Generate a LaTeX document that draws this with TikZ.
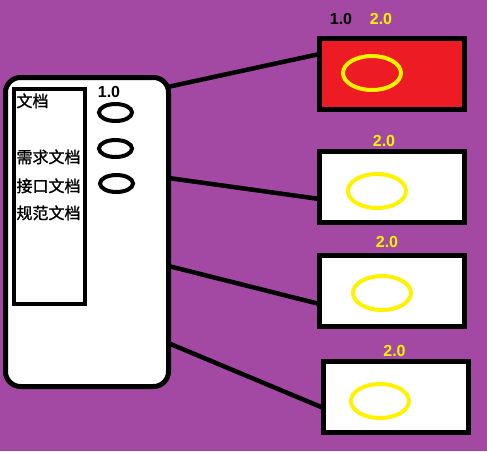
\documentclass[tikz,border=0pt]{standalone}
\usepackage{fontspec}
\setmainfont{Liberation Sans}
\newfontfamily\cjk[FakeBold=1.2]{Noto Sans CJK SC}
\usetikzlibrary{shapes.geometric,calc}
\definecolor{bgpurple}{RGB}{163,73,164}
\definecolor{paintred}{RGB}{237,28,36}
\definecolor{paintyellow}{RGB}{255,242,0}
\tikzset{
  every node/.style={inner sep=0pt, outer sep=0pt},
  bigbox/.style={draw=black, line width=5pt, fill=white, rounded corners=15pt, minimum width=163pt, minimum height=309pt},
  listbox/.style={draw=black, line width=4pt, fill=white, minimum width=71pt, minimum height=215pt},
  verbox/.style={draw=black, line width=5pt, fill=white, minimum width=145pt, minimum height=71pt},
  blackring/.style={ellipse, draw=black, line width=4pt, minimum width=33pt, minimum height=17pt},
  yellowring/.style={ellipse, draw=paintyellow, line width=4pt, minimum width=58pt, minimum height=34pt},
  cntext/.style={font=\cjk\fontsize{16pt}{18pt}\selectfont, anchor=base west, text=black},
  verlabel/.style={font=\bfseries\fontsize{16pt}{18pt}\selectfont, anchor=base},
  link/.style={draw=black, line width=4.5pt}
}
\begin{document}
\begin{tikzpicture}[x=1pt,y=-1pt]
\fill[bgpurple] (0,0) rectangle (487,451);
\useasboundingbox (0,0) rectangle (487,451);
% left document box
\node[bigbox] (L) at (87,232) {};
\node[listbox] (list) at (49.5,196.5) {};
\node[cntext] (t0) at (16.5,107) {文档};
\node[cntext] (t1) at (16.5,163) {需求文档};
\node[cntext] (t2) at (16.5,192) {接口文档};
\node[cntext] (t3) at (16.5,219) {规范文档};
\node[verlabel, text=black] (v0) at (109,97) {1.0};
\node[blackring] (r1) at (115.5,112.5) {};
\node[blackring] (r2) at (115.5,148.5) {};
\node[blackring] (r3) at (116.5,183.5) {};
% version boxes
\node[verbox, fill=paintred] (b1) at (392,74) {};
\node[verbox] (b2) at (392,186.5) {};
\node[verbox] (b3) at (392,290.5) {};
\node[verbox] (b4) at (396,397) {};
\node[yellowring] (y1) at (372,73) {};
\node[yellowring] (y2) at (377,191) {};
\node[yellowring] (y3) at (382,293) {};
\node[yellowring] (y4) at (380,401) {};
\node[verlabel, text=black] (l1a) at (341,24) {1.0};
\node[verlabel, text=paintyellow] (l1b) at (381,24) {2.0};
\node[verlabel, text=paintyellow] (l2) at (384,146) {2.0};
\node[verlabel, text=paintyellow] (l3) at (387,247) {2.0};
\node[verlabel, text=paintyellow] (l4) at (394.5,356) {2.0};
% connectors
\draw[link] ($(L.east)+(-1,-145)$) -- ($(b1.west)+(0,-20)$);
\draw[link] ($(L.east)+(0,-54)$) -- ($(b2.west)+(0,12.5)$);
\draw[link] ($(L.east)+(0,34)$) -- ($(b3.west)+(0,13.5)$);
\draw[link] ($(L.east)+(2,112)$) -- ($(b4.west)+(0,11)$);
\end{tikzpicture}
\end{document}
